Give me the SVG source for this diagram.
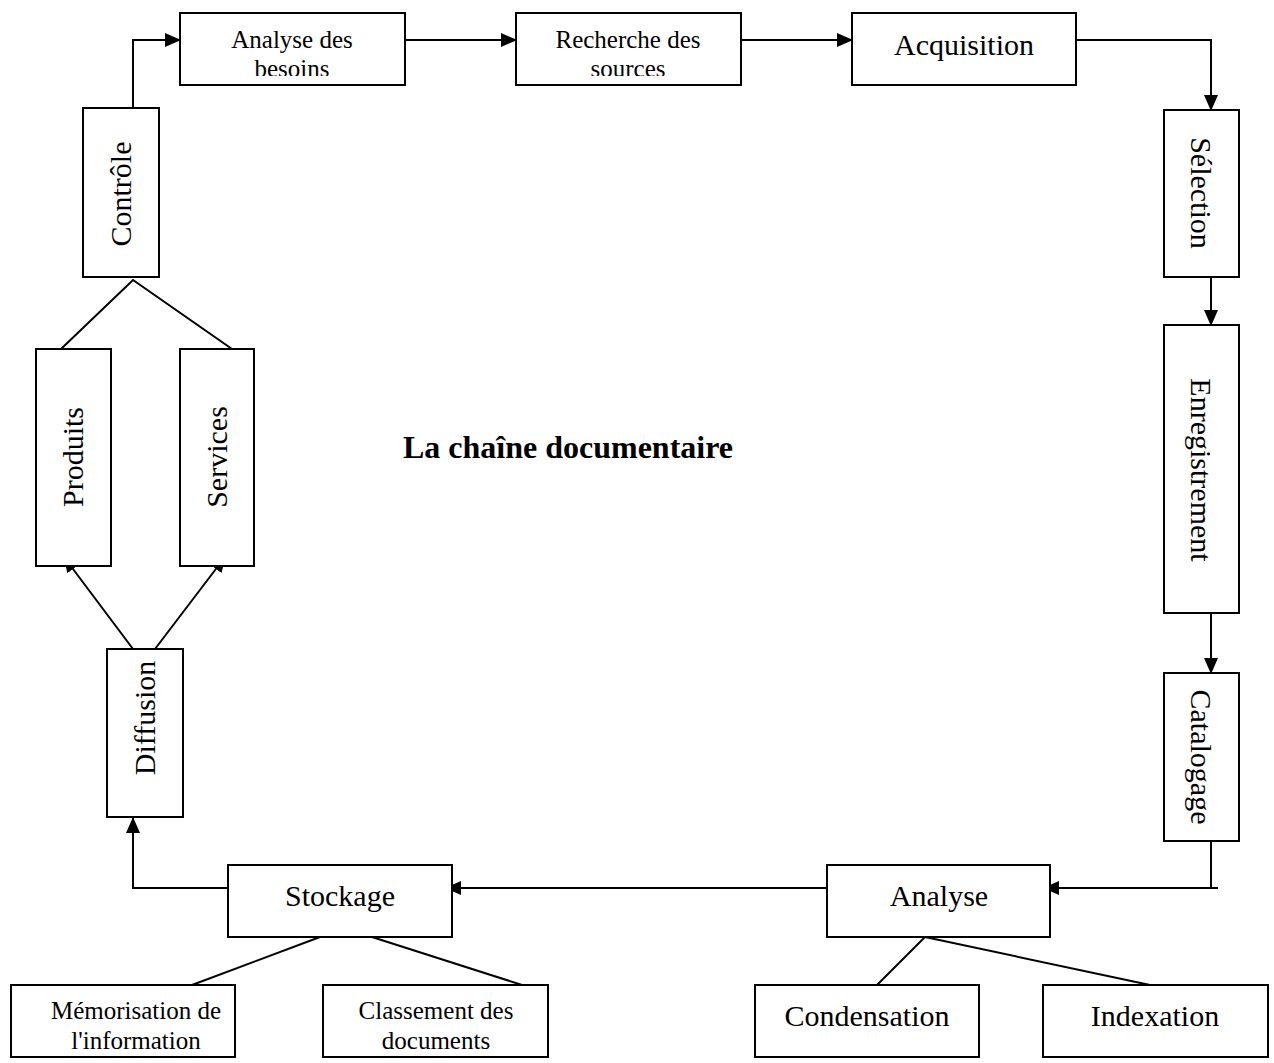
<svg xmlns="http://www.w3.org/2000/svg" width="1274" height="1063" viewBox="0 0 1274 1063">
<style>
.box{fill:#fff;stroke:#000;stroke-width:2}
.ln{fill:none;stroke:#000;stroke-width:2}
.arr{marker-end:url(#ah)}
text{font-family:"Liberation Serif","Times New Roman",serif;fill:#000;text-anchor:middle}
.s{font-size:25px}
.l{font-size:30px}
.t{font-size:32px;font-weight:bold}
</style>
<defs>
<marker id="ah" markerUnits="userSpaceOnUse" markerWidth="16" markerHeight="14" refX="15" refY="7" orient="auto">
<path d="M0,0 L16,7 L0,14 Z" fill="#000"/>
</marker>
<clipPath id="c1"><rect x="180" y="13" width="225" height="63"/></clipPath>
<clipPath id="c2"><rect x="516" y="13" width="225" height="63"/></clipPath>
</defs>
<rect width="1274" height="1063" fill="#fff"/>

<g id="connectors">
<path class="ln arr" d="M133,108 V40 H180"/>
<path class="ln arr" d="M405,40 H516"/>
<path class="ln arr" d="M741,40 H852"/>
<path class="ln arr" d="M1070,40 H1211 V110"/>
<path class="ln arr" d="M1211,277 V325"/>
<path class="ln arr" d="M1211,613 V673"/>
<path class="ln" d="M1211,841 V888"/>
<path class="ln arr" d="M1218,888 H1044"/>
<path class="ln arr" d="M827,888 H446"/>
<path class="ln arr" d="M235,888 H133 V818"/>
<path class="ln arr" d="M133,649 L64,557"/>
<path class="ln arr" d="M155,649 L225,557"/>
<path class="ln" d="M61,349 L133,280 L232,349"/>
<path class="ln" d="M320,937 L192,985"/>
<path class="ln" d="M372,937 L522,985"/>
<path class="ln" d="M925,937 L877,985"/>
<path class="ln" d="M925,937 L1150,985"/>
</g>

<g id="analyse-besoins">
<rect class="box" x="180" y="13" width="225" height="72"/>
<g clip-path="url(#c1)">
<text class="s" x="292" y="48">Analyse des</text>
<text class="s" x="292" y="77">besoins</text>
</g>
</g>
<g id="recherche-sources">
<rect class="box" x="516" y="13" width="225" height="72"/>
<g clip-path="url(#c2)">
<text class="s" x="628" y="48">Recherche des</text>
<text class="s" x="628" y="77">sources</text>
</g>
</g>
<g id="acquisition">
<rect class="box" x="852" y="13" width="224" height="72"/>
<text class="l" x="964" y="55">Acquisition</text>
</g>
<g id="selection">
<rect class="box" x="1164" y="110" width="75" height="167"/>
<text class="l" transform="translate(1201,193) rotate(90)" y="10">Sélection</text>
</g>
<g id="enregistrement">
<rect class="box" x="1164" y="325" width="75" height="288"/>
<text class="l" transform="translate(1201,470) rotate(90)" y="10">Enregistrement</text>
</g>
<g id="catalogage">
<rect class="box" x="1164" y="673" width="75" height="168"/>
<text class="l" transform="translate(1201,757) rotate(90)" y="10">Catalogage</text>
</g>
<g id="analyse">
<rect class="box" x="827" y="865" width="223" height="72"/>
<text class="l" x="939" y="906">Analyse</text>
</g>
<g id="stockage">
<rect class="box" x="228" y="865" width="224" height="72"/>
<text class="l" x="340" y="906">Stockage</text>
</g>
<g id="memorisation">
<rect class="box" x="11" y="985" width="224" height="72"/>
<text class="s" x="136" y="1019">Mémorisation de</text>
<text class="s" x="136" y="1049">l'information</text>
</g>
<g id="classement">
<rect class="box" x="323" y="985" width="225" height="72"/>
<text class="s" x="436" y="1019">Classement des</text>
<text class="s" x="436" y="1049">documents</text>
</g>
<g id="condensation">
<rect class="box" x="755" y="985" width="224" height="72"/>
<text class="l" x="867" y="1026">Condensation</text>
</g>
<g id="indexation">
<rect class="box" x="1043" y="985" width="225" height="72"/>
<text class="l" x="1155" y="1026">Indexation</text>
</g>
<g id="diffusion">
<rect class="box" x="107" y="649" width="76" height="168"/>
<text class="l" transform="translate(145,718) rotate(-90)" y="10">Diffusion</text>
</g>
<g id="produits">
<rect class="box" x="36" y="349" width="75" height="217"/>
<text class="l" transform="translate(73,457) rotate(-90)" y="10">Produits</text>
</g>
<g id="services">
<rect class="box" x="180" y="349" width="74" height="217"/>
<text class="l" transform="translate(217,457) rotate(-90)" y="10">Services</text>
</g>
<g id="controle">
<rect class="box" x="83" y="108" width="76" height="169"/>
<text class="l" transform="translate(121,194) rotate(-90)" y="10">Contrôle</text>
</g>
<g id="title">
<text class="t" x="568" y="458">La chaîne documentaire</text>
</g>
</svg>
